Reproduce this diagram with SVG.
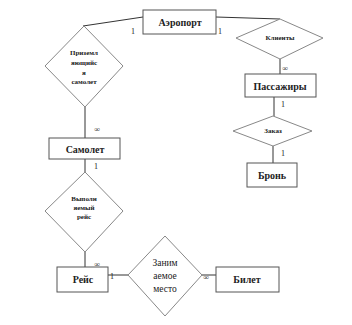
<svg xmlns="http://www.w3.org/2000/svg" width="352" height="325" viewBox="0 0 352 325">
<style>
.b{fill:#fff;stroke:#555;stroke-width:1}
.d{fill:#fff;stroke:#888;stroke-width:1}
.l{stroke:#333;stroke-width:1;fill:none}
text{font-family:"Liberation Serif","Times New Roman",serif;fill:#222;text-anchor:middle;dominant-baseline:central}
.e{font-size:10px;font-weight:bold}
.s{font-size:7px;font-weight:bold}
.c{font-size:8px}
</style>
<rect width="352" height="325" fill="#fff"/>
<g id="connectors">
<line class="l" x1="143" y1="17" x2="83" y2="26"/>
<line class="l" x1="216" y1="17" x2="280" y2="19"/>
<line class="l" x1="280" y1="59" x2="280" y2="74"/>
<line class="l" x1="274" y1="97" x2="274" y2="116"/>
<line class="l" x1="273" y1="146" x2="273" y2="163"/>
<line class="l" x1="85" y1="107" x2="85" y2="138"/>
<line class="l" x1="85" y1="159" x2="85" y2="172"/>
<line class="l" x1="85" y1="252" x2="85" y2="267"/>
<line class="l" x1="108" y1="275" x2="128" y2="275"/>
<line class="l" x1="202" y1="275" x2="216" y2="275"/>
<text class="c" x="133" y="31">1</text>
<text class="c" x="220" y="31">1</text>
<text class="c" x="285" y="68">∞</text>
<text class="c" x="283" y="104">1</text>
<text class="c" x="283" y="153">1</text>
<text class="c" x="97" y="129">∞</text>
<text class="c" x="96" y="166">1</text>
<text class="c" x="97" y="264">∞</text>
<text class="c" x="112" y="276">1</text>
<text class="c" x="206" y="277">∞</text>
</g>
<g id="airport"><rect class="b" x="143" y="10" width="73" height="24"/><text class="e" x="180" y="22">Аэропорт</text></g>
<g id="clients"><polygon class="d" points="280,19 323,38 280,59 236,38"/><text class="s" x="280" y="38">Клиенты</text></g>
<g id="passengers"><rect class="b" x="245" y="74" width="71" height="23"/><text class="e" x="280" y="86">Пассажиры</text></g>
<g id="order"><polygon class="d" points="273,116 312,131 273,146 233,131"/><text class="s" x="273" y="131" font-weight="normal">Заказ</text></g>
<g id="booking"><rect class="b" x="247" y="163" width="50" height="24"/><text class="e" x="272" y="175">Бронь</text></g>
<g id="landing"><polygon class="d" points="84,26 123,66 85,107 45,66"/>
<text class="s" x="84" y="53">Приземл</text><text class="s" x="84" y="63">яющийс</text><text class="s" x="84" y="73">я</text><text class="s" x="84" y="82">самолет</text></g>
<g id="plane"><rect class="b" x="49" y="138" width="71" height="21"/><text class="e" x="85" y="149">Самолет</text></g>
<g id="performed"><polygon class="d" points="85,172 123,211 85,252 45,211"/>
<text class="s" x="84" y="199">Выполн</text><text class="s" x="84" y="208">яемый</text><text class="s" x="84" y="217">рейс</text></g>
<g id="flight"><rect class="b" x="57" y="267" width="51" height="25"/><text class="e" x="83" y="279">Рейс</text></g>
<g id="seat"><polygon class="d" points="165,236 202,275 165,316 128,275"/>
<text x="165" y="263" font-size="9.5">Заним</text><text x="165" y="276" font-size="9.5">аемое</text><text x="165" y="289" font-size="9.5">место</text></g>
<g id="ticket"><rect class="b" x="216" y="267" width="63" height="25"/><text class="e" x="247" y="279">Билет</text></g>
</svg>
